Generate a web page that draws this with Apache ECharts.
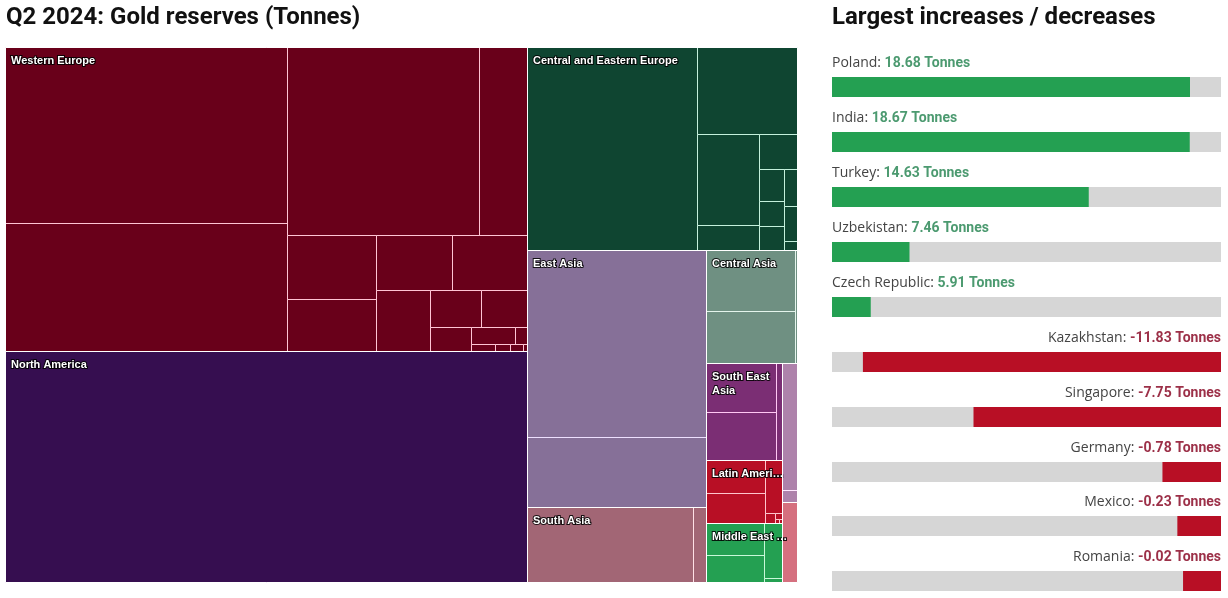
<!DOCTYPE html>
<html>
<head>
<meta charset="utf-8">
<title>Q2 2024: Gold reserves (Tonnes)</title>
<script src="https://cdn.jsdelivr.net/npm/echarts@6/dist/echarts.min.js"></script>
<style>
  html, body { margin: 0; padding: 0; background: #fff; }
  #chart { width: 1228px; height: 598px; }
</style>
</head>
<body>
<div id="chart"></div>
<script>
// tonnes per holder, largest first
var westernEurope = [3323, 2430, 2426, 606, 385, 313, 281, 279, 223, 128, 115, 66, 51, 14, 11, 7, 6, 2];
var northAmerica = [8133];
var centralEasternEurope = [2320, 581, 381, 105, 92, 54, 41, 41, 32, 30, 8];
var eastAsia = [2262, 847];
var southAsia = [841, 66];
var centralAsia = [365, 305, 19];
var southEastAsia = [232, 227, 39];
var latinAmerica = [128, 117, 62, 7, 3, 1, 1];
var middleEast = [126, 103, 69, 6];
var unlabelledRegionA = [129, 13];
var unlabelledRegionB = [81];

var regionLabels = ['Western Europe', 'North America', 'Central and Eastern Europe', 'East Asia', 'South Asia',
  'Central Asia', 'South East\nAsia', 'Latin Ameri…', 'Middle East …', '', ''];
var regionValues = [westernEurope, northAmerica, centralEasternEurope, eastAsia, southAsia,
  centralAsia, southEastAsia, latinAmerica, middleEast, unlabelledRegionA, unlabelledRegionB];
var regionColors = ['#69001a', '#360e50', '#0f4531', '#867098', '#a26675',
  '#6f9082', '#7b2e74', '#b80f25', '#24a052', '#ae82ab', '#d5707f'];
var regionLines = ['#ffc4d4', '#e4c8ff', '#c4f0dc', '#eee0ff', '#ffe0e6',
  '#e4f4ec', '#ffc8f4', '#ffc4cc', '#c8f8d8', '#ffe8ff', '#ffe0e4'];

var increaseNames = ['Poland', 'India', 'Turkey', 'Uzbekistan', 'Czech Republic'];
var increaseValues = [18.68, 18.67, 14.63, 7.46, 5.91];
var decreaseNames = ['Kazakhstan', 'Singapore', 'Germany', 'Mexico', 'Romania'];
var decreaseValues = [-11.83, -7.75, -0.78, -0.23, -0.02];

var TREE_W = 791, TREE_H = 534;
var UP_MIN = 4.36, UP_MAX = 19.92;
var DOWN_MIN = -12.97, DOWN_MAX = 1.38;

// color for bar labels, fill for the custom series text
var labelRich = {
  n: { fontFamily: '"Open Sans"', fontSize: 14, color: '#444', fill: '#444' },
  up: { fontFamily: 'Roboto', fontSize: 14, fontWeight: 'bold', color: '#4c9a70', fill: '#4c9a70' },
  down: { fontFamily: 'Roboto', fontSize: 14, fontWeight: 'bold', color: '#9c3048', fill: '#9c3048' }
};

function sum(list) {
  return list.reduce(function (a, b) { return a + b; }, 0);
}

function aspect(a, b) {
  return Math.max(a / b, b / a);
}

// squarified layout that flips direction after every row, starting with a column
function squarify(values, box) {
  var scale = box.w * box.h / sum(values);
  var r = { x: box.x, y: box.y, w: box.w, h: box.h };
  var out = [];
  var dir = 0, i = 0;
  while (i < values.length) {
    var row = [values[i] * scale];
    var total = row[0];
    i++;
    var side = dir === 0 ? r.h : r.w;
    while (i < values.length) {
      var last = row[row.length - 1];
      var area = values[i] * scale;
      var now = total / side, next = (total + area) / side;
      if (aspect(next, last / next) > aspect(now, last / now)) break;
      row.push(area);
      total += area;
      i++;
    }
    var thick = total / side;
    var pos = dir === 0 ? r.y : r.x;
    row.forEach(function (a) {
      var len = a / thick;
      if (dir === 0) out.push({ x: r.x, y: pos, w: thick, h: len });
      else out.push({ x: pos, y: r.y, w: len, h: thick });
      pos += len;
    });
    if (dir === 0) { r.x += thick; r.w -= thick; }
    else { r.y += thick; r.h -= thick; }
    dir = 1 - dir;
  }
  return out;
}

var regionBoxes = squarify(regionValues.map(sum), { x: 0, y: 0, w: TREE_W, h: TREE_H });
var leafData = [];
regionBoxes.forEach(function (box, idx) {
  squarify(regionValues[idx], box).forEach(function (c) {
    leafData.push([c.x, c.y, c.x + c.w, c.y + c.h, idx]);
  });
});
var regionData = regionBoxes.map(function (b) { return [b.x, b.y, b.x + b.w, b.y + b.h]; });

function snap(v) {
  return Math.round(v + 0.3);
}

function pixelBox(api) {
  var a = api.coord([api.value(0), api.value(1)]);
  var b = api.coord([api.value(2), api.value(3)]);
  var x = snap(a[0]), y = snap(a[1]);
  // half pixel so the 1px strokes stay crisp
  return { x: x + 0.5, y: y + 0.5, width: snap(b[0]) - x, height: snap(b[1]) - y };
}

function renderLeaf(params, api) {
  var idx = api.value(4);
  return {
    type: 'rect',
    shape: pixelBox(api),
    style: { fill: regionColors[idx], stroke: regionLines[idx], lineWidth: 1 }
  };
}

function renderRegion(params, api) {
  var box = pixelBox(api);
  return {
    type: 'group',
    children: [{
      type: 'rect',
      shape: box,
      style: { fill: 'none', stroke: '#fff', lineWidth: 1 }
    }, {
      type: 'text',
      style: {
        text: regionLabels[params.dataIndex],
        x: box.x + 5.5,
        y: box.y + 6,
        fill: '#fff',
        stroke: 'rgba(0,0,0,0.85)',
        lineWidth: 2,
        font: 'bold 11px "Liberation Sans", Arial, sans-serif',
        lineHeight: 14
      }
    }]
  };
}

// decreases hang from the right end of the axis, which a bar series cannot do with zero inside the range
function renderDecrease(params, api) {
  var row = api.value(1);
  var left = api.coord([DOWN_MIN, row]);
  var from = api.coord([api.value(0), row]);
  var right = api.coord([DOWN_MAX, row]);
  var y = Math.round(left[1]) - 10;
  return {
    type: 'group',
    children: [{
      type: 'rect',
      shape: { x: left[0], y: y, width: right[0] - left[0], height: 20 },
      style: { fill: '#d6d6d6' }
    }, {
      type: 'rect',
      shape: { x: from[0], y: y, width: right[0] - from[0], height: 20 },
      style: { fill: '#b80f25' }
    }, {
      type: 'text',
      style: {
        text: '{n|' + decreaseNames[row] + ': }{down|' + api.value(0) + ' Tonnes}',
        x: right[0],
        y: y - 14,
        align: 'right',
        verticalAlign: 'middle',
        rich: labelRich
      }
    }]
  };
}

var option = {
  animation: false,
  backgroundColor: '#fff',
  title: [
    { text: 'Q2 2024: Gold reserves (Tonnes)', left: 6, top: 6, padding: 0,
      textStyle: { fontFamily: 'Roboto', fontWeight: 'bold', fontSize: 24, color: '#111' } },
    { text: 'Largest increases / decreases', left: 832, top: 6, padding: 0,
      textStyle: { fontFamily: 'Roboto', fontWeight: 'bold', fontSize: 24, color: '#111' } }
  ],
  grid: [
    { left: 5, top: 47, width: TREE_W + 1, height: TREE_H + 1, outerBoundsMode: 'none' },
    { left: 832, top: 59.5, width: 389, height: 275, outerBoundsMode: 'none' },
    { left: 832, top: 335, width: 389, height: 273.5, outerBoundsMode: 'none' }
  ],
  xAxis: [
    { type: 'value', gridIndex: 0, min: 0, max: TREE_W, show: false },
    { type: 'value', gridIndex: 1, min: UP_MIN, max: UP_MAX, show: false },
    { type: 'value', gridIndex: 2, min: DOWN_MIN, max: DOWN_MAX, show: false }
  ],
  yAxis: [
    { type: 'value', gridIndex: 0, min: 0, max: TREE_H, inverse: true, show: false },
    { type: 'category', gridIndex: 1, data: increaseNames, inverse: true, show: false },
    { type: 'category', gridIndex: 2, data: decreaseNames, inverse: true, show: false }
  ],
  series: [
    {
      type: 'custom', xAxisIndex: 0, yAxisIndex: 0, silent: true,
      data: leafData, renderItem: renderLeaf, encode: { x: [0, 2], y: [1, 3] }
    },
    {
      type: 'custom', xAxisIndex: 0, yAxisIndex: 0, silent: true,
      data: regionData, renderItem: renderRegion, encode: { x: [0, 2], y: [1, 3] }
    },
    {
      type: 'bar', xAxisIndex: 1, yAxisIndex: 1, data: increaseValues, barWidth: 20,
      itemStyle: { color: '#24a052' },
      showBackground: true, backgroundStyle: { color: '#d6d6d6' },
      label: {
        show: true,
        position: 'insideLeft',
        distance: 0,
        offset: [0, -24],
        formatter: function (p) {
          return '{n|' + increaseNames[p.dataIndex] + ': }{up|' + p.value + ' Tonnes}';
        },
        rich: labelRich
      }
    },
    {
      type: 'custom', xAxisIndex: 2, yAxisIndex: 2, silent: true,
      data: decreaseValues.map(function (v, i) { return [v, i]; }),
      renderItem: renderDecrease, encode: { x: 0, y: 1 }
    }
  ]
};

var chart = echarts.init(document.getElementById('chart'), null, { renderer: 'canvas' });
chart.setOption(option);
</script>
</body>
</html>
